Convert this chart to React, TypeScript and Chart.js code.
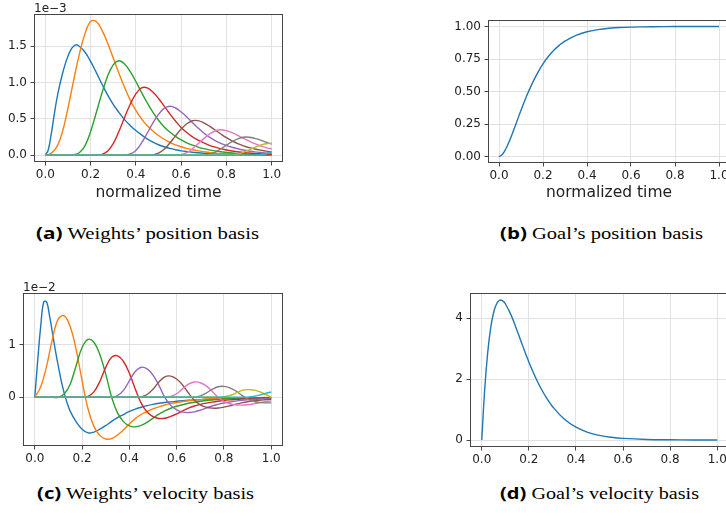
import React, { useEffect, useLayoutEffect, useRef } from "react";
import { Chart, registerables } from "chart.js";

Chart.register(...registerables);

// tab10 palette, one colour per basis function
const BASIS_COLORS = [
  "#1f77b4", "#ff7f0e", "#2ca02c", "#d62728", "#9467bd",
  "#8c564b", "#e377c2", "#7f7f7f", "#bcbd22", "#17becf",
];

const SPINE = "#454545";
const GRID = "#e1e1e1";
const TEXT = "#222222";
const FONT = "'DejaVu Sans', sans-serif";

// Normalised time samples
const TIME = [
  0, 0.025, 0.05, 0.075, 0.1, 0.125, 0.15, 0.175, 0.2, 0.225,
  0.25, 0.275, 0.3, 0.325, 0.35, 0.375, 0.4, 0.425, 0.45, 0.475,
  0.5, 0.525, 0.55, 0.575, 0.6, 0.625, 0.65, 0.675, 0.7, 0.725,
  0.75, 0.775, 0.8, 0.825, 0.85, 0.875, 0.9, 0.925, 0.95, 0.975,
  1.0,
];
// denser at the start, where the first basis rises quickly
const TIME_FINE = [
  0, 0.0125, 0.025, 0.0375, 0.05, 0.0625, 0.075, 0.0875, 0.1, 0.1125,
  0.125, 0.1375, 0.15,
  0.175, 0.2, 0.225, 0.25, 0.275, 0.3, 0.325, 0.35, 0.375, 0.4,
  0.425, 0.45, 0.475, 0.5, 0.525, 0.55, 0.575, 0.6, 0.625, 0.65,
  0.675, 0.7, 0.725, 0.75, 0.775, 0.8, 0.825, 0.85, 0.875, 0.9,
  0.925, 0.95, 0.975, 1.0,
];
const GOAL_TIME = [
  0, 0.0125, 0.025, 0.0375, 0.05, 0.0625, 0.075, 0.0875, 0.1, 0.125,
  0.15, 0.175, 0.2, 0.225, 0.25, 0.275, 0.3, 0.35, 0.4, 0.45,
  0.5, 0.55, 0.6, 0.7, 0.8, 0.9, 1.0,
];

// (a) position response of each weight, units of 1e-3
const POS_W1 = [
  0, 0.07, 0.27, 0.52, 0.76, 0.95, 1.11, 1.25, 1.36, 1.45,
  1.5, 1.52, 1.5,
  1.42, 1.29, 1.14, 0.98, 0.83, 0.7, 0.59, 0.49, 0.41, 0.34,
  0.28, 0.225, 0.18, 0.145, 0.117, 0.094, 0.076, 0.061, 0.05, 0.041,
  0.034, 0.028, 0.023, 0.019, 0.016, 0.013, 0.011, 0.009, 0.008, 0.007,
  0.006, 0.005, 0.004, 0.004,
];
const POS_W2 = [
  0, 0.026, 0.111, 0.315, 0.648, 1.027, 1.388, 1.669, 1.84, 1.84,
  1.721, 1.545, 1.338, 1.129, 0.934, 0.759, 0.618, 0.501, 0.409, 0.335,
  0.272, 0.22, 0.179, 0.144, 0.117, 0.094, 0.076, 0.061, 0.05, 0.039,
  0.031, 0.024, 0.02, 0.017, 0.015, 0.013, 0.011, 0.009, 0.008, 0.007,
  0.006,
];
const POS_W3 = [
  0, 0, 0, 0, 0, 0.007, 0.035, 0.13, 0.325, 0.585,
  0.852, 1.086, 1.242, 1.3, 1.255, 1.151, 1.014, 0.865, 0.722, 0.592,
  0.481, 0.39, 0.319, 0.26, 0.212, 0.172, 0.139, 0.113, 0.091, 0.074,
  0.06, 0.048, 0.039, 0.031, 0.025, 0.02, 0.016, 0.013, 0.01, 0.008,
  0.007,
];
const POS_W4 = [
  0, 0, 0, 0, 0, 0, 0, 0, 0, 0.002,
  0.013, 0.056, 0.159, 0.327, 0.519, 0.701, 0.843, 0.926, 0.927, 0.87,
  0.781, 0.676, 0.57, 0.472, 0.383, 0.312, 0.253, 0.207, 0.169, 0.137,
  0.111, 0.091, 0.073, 0.059, 0.048, 0.038, 0.031, 0.025, 0.02, 0.016,
  0.012,
];
const POS_W5 = [
  0, 0, 0, 0, 0, 0, 0, 0, 0, 0,
  0, 0, 0, 0, 0.003, 0.018, 0.067, 0.169, 0.303, 0.441,
  0.563, 0.644, 0.674, 0.65, 0.596, 0.526, 0.448, 0.374, 0.307, 0.249,
  0.202, 0.165, 0.135, 0.11, 0.089, 0.072, 0.059, 0.047, 0.038, 0.031,
  0.025,
];
const POS_W6 = [
  0, 0, 0, 0, 0, 0, 0, 0, 0, 0,
  0, 0, 0, 0, 0, 0, 0, 0, 0.001, 0.007,
  0.029, 0.082, 0.168, 0.266, 0.36, 0.433, 0.475, 0.476, 0.446, 0.401,
  0.347, 0.293, 0.242, 0.197, 0.16, 0.13, 0.106, 0.087, 0.071, 0.057,
  0.047,
];
const POS_W7 = [
  0, 0, 0, 0, 0, 0, 0, 0, 0, 0,
  0, 0, 0, 0, 0, 0, 0, 0, 0, 0,
  0, 0, 0, 0.002, 0.009, 0.035, 0.088, 0.158, 0.229, 0.292,
  0.334, 0.35, 0.338, 0.31, 0.273, 0.233, 0.194, 0.159, 0.13, 0.105,
  0.086,
];
const POS_W8 = [
  0, 0, 0, 0, 0, 0, 0, 0, 0, 0,
  0, 0, 0, 0, 0, 0, 0, 0, 0, 0,
  0, 0, 0, 0, 0, 0, 0, 0, 0.004, 0.015,
  0.043, 0.088, 0.139, 0.188, 0.226, 0.248, 0.248, 0.233, 0.209, 0.181,
  0.153,
];
const POS_W9 = [
  0, 0, 0, 0, 0, 0, 0, 0, 0, 0,
  0, 0, 0, 0, 0, 0, 0, 0, 0, 0,
  0, 0, 0, 0, 0, 0, 0, 0, 0, 0,
  0, 0, 0.001, 0.004, 0.017, 0.041, 0.074, 0.108, 0.138, 0.158,
  0.165,
];
const POS_W10 = [
  0, 0, 0, 0, 0, 0, 0, 0, 0, 0,
  0, 0, 0, 0, 0, 0, 0, 0, 0, 0,
  0, 0, 0, 0, 0, 0, 0, 0, 0, 0,
  0, 0, 0, 0, 0, 0, 0, 0.002, 0.008, 0.021,
  0.044,
];

// (c) velocity response of each weight, units of 1e-2
const VEL_W1 = [
  0, 0.72, 1.36, 1.82, 1.82, 1.55, 1.22, 0.88, 0.58, 0.3,
  0.07, -0.12, -0.27,
  -0.47, -0.61, -0.68, -0.665, -0.61, -0.54, -0.46, -0.39, -0.33, -0.27,
  -0.225, -0.19, -0.16, -0.135, -0.115, -0.1, -0.088, -0.077, -0.067, -0.058,
  -0.05, -0.044, -0.038, -0.033, -0.029, -0.025, -0.022, -0.02, -0.018, -0.016,
  -0.014, -0.013, -0.012, -0.011,
];
const VEL_W2 = [
  0, 0.203, 0.595, 1.127, 1.502, 1.557, 1.346, 0.908, 0.313, -0.219,
  -0.556, -0.728, -0.798, -0.79, -0.72, -0.626, -0.509, -0.407, -0.329, -0.269,
  -0.221, -0.182, -0.147, -0.121, -0.099, -0.08, -0.066, -0.053, -0.044, -0.034,
  -0.028, -0.022, -0.017, -0.014, -0.012, -0.01, -0.008, -0.007, -0.006, -0.005,
  -0.004,
];
const VEL_W3 = [
  0, 0, 0, 0, 0, 0.066, 0.255, 0.609, 0.952, 1.107,
  1.052, 0.819, 0.443, 0, -0.299, -0.465, -0.548, -0.565, -0.537, -0.476,
  -0.399, -0.321, -0.26, -0.21, -0.172, -0.142, -0.115, -0.094, -0.077, -0.062,
  -0.051, -0.042, -0.034, -0.028, -0.022, -0.018, -0.014, -0.011, -0.009, -0.008,
  -0.007,
];
const VEL_W4 = [
  0, 0, 0, 0, 0, 0, 0, 0, 0, 0.016,
  0.103, 0.302, 0.572, 0.763, 0.791, 0.684, 0.461, 0.159, -0.111, -0.282,
  -0.37, -0.405, -0.401, -0.366, -0.318, -0.258, -0.207, -0.167, -0.137, -0.112,
  -0.092, -0.075, -0.061, -0.05, -0.041, -0.033, -0.027, -0.022, -0.017, -0.014,
  -0.011,
];
const VEL_W5 = [
  0, 0, 0, 0, 0, 0, 0, 0, 0, 0,
  0, 0, 0, 0, 0.034, 0.132, 0.315, 0.493, 0.573, 0.544,
  0.424, 0.229, 0, -0.155, -0.241, -0.284, -0.292, -0.278, -0.246, -0.206,
  -0.166, -0.135, -0.109, -0.089, -0.073, -0.06, -0.049, -0.04, -0.032, -0.026,
  -0.022,
];
const VEL_W6 = [
  0, 0, 0, 0, 0, 0, 0, 0, 0, 0,
  0, 0, 0, 0, 0, 0, 0, 0, 0.008, 0.053,
  0.155, 0.293, 0.391, 0.405, 0.35, 0.236, 0.081, -0.057, -0.144, -0.189,
  -0.208, -0.206, -0.187, -0.163, -0.132, -0.106, -0.085, -0.07, -0.057, -0.047,
  -0.038,
];
const VEL_W7 = [
  0, 0, 0, 0, 0, 0, 0, 0, 0, 0,
  0, 0, 0, 0, 0, 0, 0, 0, 0, 0,
  0, 0, 0, 0.018, 0.067, 0.161, 0.252, 0.293, 0.278, 0.217,
  0.117, 0, -0.079, -0.123, -0.145, -0.149, -0.142, -0.126, -0.105, -0.085,
  -0.069,
];
const VEL_W8 = [
  0, 0, 0, 0, 0, 0, 0, 0, 0, 0,
  0, 0, 0, 0, 0, 0, 0, 0, 0, 0,
  0, 0, 0, 0, 0, 0, 0, 0.004, 0.027, 0.08,
  0.151, 0.202, 0.209, 0.181, 0.122, 0.042, -0.029, -0.075, -0.098, -0.107,
  -0.106,
];
const VEL_W9 = [
  0, 0, 0, 0, 0, 0, 0, 0, 0, 0,
  0, 0, 0, 0, 0, 0, 0, 0, 0, 0,
  0, 0, 0, 0, 0, 0, 0, 0, 0, 0,
  0, 0, 0.009, 0.034, 0.08, 0.126, 0.146, 0.139, 0.108, 0.058,
  0,
];
const VEL_W10 = [
  0, 0, 0, 0, 0, 0, 0, 0, 0, 0,
  0, 0, 0, 0, 0, 0, 0, 0, 0, 0,
  0, 0, 0, 0, 0, 0, 0, 0, 0, 0,
  0, 0, 0, 0, 0, 0, 0.002, 0.014, 0.04, 0.076,
  0.101,
];

// (b) goal position basis and (d) goal velocity basis
const GOAL_POS = [
  0, 0.011, 0.04, 0.081, 0.13, 0.184, 0.241, 0.299, 0.355, 0.463,
  0.559, 0.642, 0.713, 0.771, 0.819, 0.857, 0.888, 0.932, 0.96, 0.976,
  0.986, 0.992, 0.995, 0.998, 0.9995, 0.9999, 1.0,
];
const GOAL_VEL = [
  0, 1.67, 2.858, 3.667, 4.182, 4.471, 4.589, 4.58, 4.477, 4.094,
  3.595, 3.068, 2.566, 2.113, 1.716, 1.381, 1.103, 0.688, 0.421, 0.253,
  0.151, 0.089, 0.052, 0.017, 0.006, 0.002, 0.001,
];

// Tick positions and their printed labels
const X_TICKS = [0, 0.2, 0.4, 0.6, 0.8, 1.0];
const X_TICK_LABELS = ["0.0", "0.2", "0.4", "0.6", "0.8", "1.0"];
const A_Y_TICKS = [0, 0.5, 1.0, 1.5];
const A_Y_LABELS = ["0.0", "0.5", "1.0", "1.5"];
const B_Y_TICKS = [0, 0.25, 0.5, 0.75, 1.0];
const B_Y_LABELS = ["0.00", "0.25", "0.50", "0.75", "1.00"];
const C_Y_TICKS = [0, 1];
const C_Y_LABELS = ["0", "1"];
const D_Y_TICKS = [0, 2, 4];
const D_Y_LABELS = ["0", "2", "4"];

type Series = { x: number[]; y: number[]; color: string };
type Panel = {
  left: number;
  top: number;
  width: number;
  height: number;
  area: { left: number; top: number; right: number; bottom: number };
  yMin: number;
  yMax: number;
  yTicks: number[];
  yLabels: string[];
  series: Series[];
  offsetText?: string;
  xTitle?: string;
  xTitleBaseline?: number;
};

const POS_SERIES: Series[] = [
  { x: TIME_FINE, y: POS_W1, color: BASIS_COLORS[0] },
  { x: TIME, y: POS_W2, color: BASIS_COLORS[1] },
  { x: TIME, y: POS_W3, color: BASIS_COLORS[2] },
  { x: TIME, y: POS_W4, color: BASIS_COLORS[3] },
  { x: TIME, y: POS_W5, color: BASIS_COLORS[4] },
  { x: TIME, y: POS_W6, color: BASIS_COLORS[5] },
  { x: TIME, y: POS_W7, color: BASIS_COLORS[6] },
  { x: TIME, y: POS_W8, color: BASIS_COLORS[7] },
  { x: TIME, y: POS_W9, color: BASIS_COLORS[8] },
  { x: TIME, y: POS_W10, color: BASIS_COLORS[9] },
];
const VEL_SERIES: Series[] = [
  { x: TIME_FINE, y: VEL_W1, color: BASIS_COLORS[0] },
  { x: TIME, y: VEL_W2, color: BASIS_COLORS[1] },
  { x: TIME, y: VEL_W3, color: BASIS_COLORS[2] },
  { x: TIME, y: VEL_W4, color: BASIS_COLORS[3] },
  { x: TIME, y: VEL_W5, color: BASIS_COLORS[4] },
  { x: TIME, y: VEL_W6, color: BASIS_COLORS[5] },
  { x: TIME, y: VEL_W7, color: BASIS_COLORS[6] },
  { x: TIME, y: VEL_W8, color: BASIS_COLORS[7] },
  { x: TIME, y: VEL_W9, color: BASIS_COLORS[8] },
  { x: TIME, y: VEL_W10, color: BASIS_COLORS[9] },
];

const PANELS: Panel[] = [
  {
    left: 0, top: 0, width: 300, height: 205,
    area: { left: 34, top: 14, right: 283, bottom: 162 },
    yMin: -0.0925, yMax: 1.9425, yTicks: A_Y_TICKS, yLabels: A_Y_LABELS,
    series: POS_SERIES, offsetText: "1e\u22123",
    xTitle: "normalized time", xTitleBaseline: 196.5,
  },
  {
    left: 440, top: 0, width: 310, height: 205,
    area: { left: 48, top: 20, right: 290, bottom: 163 },
    yMin: -0.05, yMax: 1.05, yTicks: B_Y_TICKS, yLabels: B_Y_LABELS,
    series: [{ x: GOAL_TIME, y: GOAL_POS, color: BASIS_COLORS[0] }],
    xTitle: "normalized time", xTitleBaseline: 196.5,
  },
  {
    left: 0, top: 270, width: 300, height: 200,
    area: { left: 23, top: 23, right: 283, bottom: 176 },
    yMin: -0.931, yMax: 1.993, yTicks: C_Y_TICKS, yLabels: C_Y_LABELS,
    series: VEL_SERIES, offsetText: "1e\u22122",
  },
  {
    left: 440, top: 270, width: 310, height: 200,
    area: { left: 30, top: 23, right: 289, bottom: 177 },
    yMin: -0.23, yMax: 4.83, yTicks: D_Y_TICKS, yLabels: D_Y_LABELS,
    series: [{ x: GOAL_TIME, y: GOAL_VEL, color: BASIS_COLORS[0] }],
  },
];

type CaptionSpec = { tag: string; text: string; left: number; baseline: number; width: number };
const CAPTIONS: CaptionSpec[] = [
  { tag: "(a)", text: "Weights\u2019 position basis", left: 36, baseline: 238.5, width: 223 },
  { tag: "(b)", text: "Goal\u2019s position basis", left: 500, baseline: 238.5, width: 203 },
  { tag: "(c)", text: "Weights\u2019 velocity basis", left: 37, baseline: 498.5, width: 217 },
  { tag: "(d)", text: "Goal\u2019s velocity basis", left: 500, baseline: 498.5, width: 199 },
];

// Draws the four-sided axes frame plus the offset text and the x-axis title
function decorPlugin(p: Panel) {
  return {
    id: "decor",
    afterDatasetsDraw(chart: any) {
      const { ctx, chartArea: a } = chart;
      ctx.save();
      ctx.strokeStyle = SPINE;
      ctx.lineWidth = 1;
      ctx.strokeRect(
        Math.round(a.left) + 0.5,
        Math.round(a.top) + 0.5,
        Math.round(a.right - a.left) - 1,
        Math.round(a.bottom - a.top) - 1
      );
      ctx.fillStyle = TEXT;
      ctx.textBaseline = "alphabetic";
      if (p.offsetText) {
        ctx.font = `12px ${FONT}`;
        ctx.textAlign = "left";
        ctx.fillText(p.offsetText, a.left, a.top - 2.5);
      }
      if (p.xTitle && p.xTitleBaseline !== undefined) {
        ctx.font = `15.5px ${FONT}`;
        ctx.textAlign = "center";
        ctx.fillText(p.xTitle, (a.left + a.right) / 2, p.xTitleBaseline);
      }
      ctx.restore();
    },
  };
}

function PanelChart({ panel }: { panel: Panel }) {
  const ref = useRef<HTMLCanvasElement>(null);
  useEffect(() => {
    const canvas = ref.current;
    if (!canvas) return;
    const p = panel;
    const n = p.series.length;
    const tickFont = { family: FONT, size: 12 };
    const chart = new Chart(canvas, {
      type: "line",
      data: {
        datasets: p.series.map((s, i) => ({
          data: s.x.map((x, j) => ({ x, y: s.y[j] })),
          borderColor: s.color,
          backgroundColor: s.color,
          borderWidth: 1.4,
          pointRadius: 0,
          tension: 0.4,
          fill: false,
          order: n - i,
        })),
      },
      options: {
        animation: false,
        responsive: false,
        devicePixelRatio: 1,
        events: [],
        layout: {
          padding: { left: 0, top: p.area.top, right: p.width - p.area.right, bottom: 0 },
        },
        plugins: {
          legend: { display: false },
          tooltip: { enabled: false },
          title: { display: false },
        },
        scales: {
          x: {
            type: "linear",
            min: -0.05,
            max: 1.05,
            afterBuildTicks: (s: any) => {
              s.ticks = X_TICKS.map((v) => ({ value: v }));
            },
            afterFit: (s: any) => {
              s.height = p.height - p.area.bottom;
            },
            ticks: {
              callback: (v: any) => {
                const i = X_TICKS.indexOf(Number(v));
                return i >= 0 ? X_TICK_LABELS[i] : "";
              },
              font: tickFont,
              color: TEXT,
              padding: 2,
              autoSkip: false,
              maxRotation: 0,
              minRotation: 0,
            },
            grid: {
              color: GRID,
              lineWidth: 1,
              drawTicks: true,
              tickLength: 3.5,
              tickColor: SPINE,
              tickWidth: 1,
            },
            border: { display: false },
          },
          y: {
            type: "linear",
            min: p.yMin,
            max: p.yMax,
            afterBuildTicks: (s: any) => {
              s.ticks = p.yTicks.map((v) => ({ value: v }));
            },
            afterFit: (s: any) => {
              s.width = p.area.left;
            },
            ticks: {
              callback: (v: any) => {
                const i = p.yTicks.indexOf(Number(v));
                return i >= 0 ? p.yLabels[i] : "";
              },
              font: tickFont,
              color: TEXT,
              padding: 3.5,
              autoSkip: false,
            },
            grid: {
              color: GRID,
              lineWidth: 1,
              drawTicks: true,
              tickLength: 3.5,
              tickColor: SPINE,
              tickWidth: 1,
            },
            border: { display: false },
          },
        },
      } as any,
      plugins: [decorPlugin(p)],
    });
    return () => chart.destroy();
  }, [panel]);
  return (
    <canvas
      ref={ref}
      width={panel.width}
      height={panel.height}
      style={{
        position: "absolute",
        left: panel.left,
        top: panel.top,
        width: panel.width,
        height: panel.height,
      }}
    />
  );
}

function Caption({ spec }: { spec: CaptionSpec }) {
  const ref = useRef<HTMLDivElement>(null);
  useLayoutEffect(() => {
    const el = ref.current;
    if (!el) return;
    el.style.transform = "none";
    const natural = el.getBoundingClientRect().width;
    if (natural > 0) el.style.transform = `scaleX(${spec.width / natural})`;
  }, [spec]);
  return (
    <div
      ref={ref}
      style={{
        position: "absolute",
        left: spec.left,
        top: spec.baseline - 16,
        whiteSpace: "nowrap",
        transformOrigin: "0 0",
        fontSize: 16.5,
        lineHeight: "20px",
        color: "#000",
      }}
    >
      <span style={{ fontFamily: "'Open Sans', sans-serif", fontWeight: 700 }}>{spec.tag}</span>
      <span style={{ fontFamily: "'Liberation Serif', serif" }}> {spec.text}</span>
    </div>
  );
}

export default function App() {
  return (
    <div
      style={{
        position: "absolute",
        left: 0,
        top: 0,
        width: 726,
        height: 518,
        overflow: "hidden",
        background: "#ffffff",
      }}
    >
      {PANELS.map((p, i) => (
        <PanelChart key={i} panel={p} />
      ))}
      {CAPTIONS.map((c, i) => (
        <Caption key={i} spec={c} />
      ))}
    </div>
  );
}
